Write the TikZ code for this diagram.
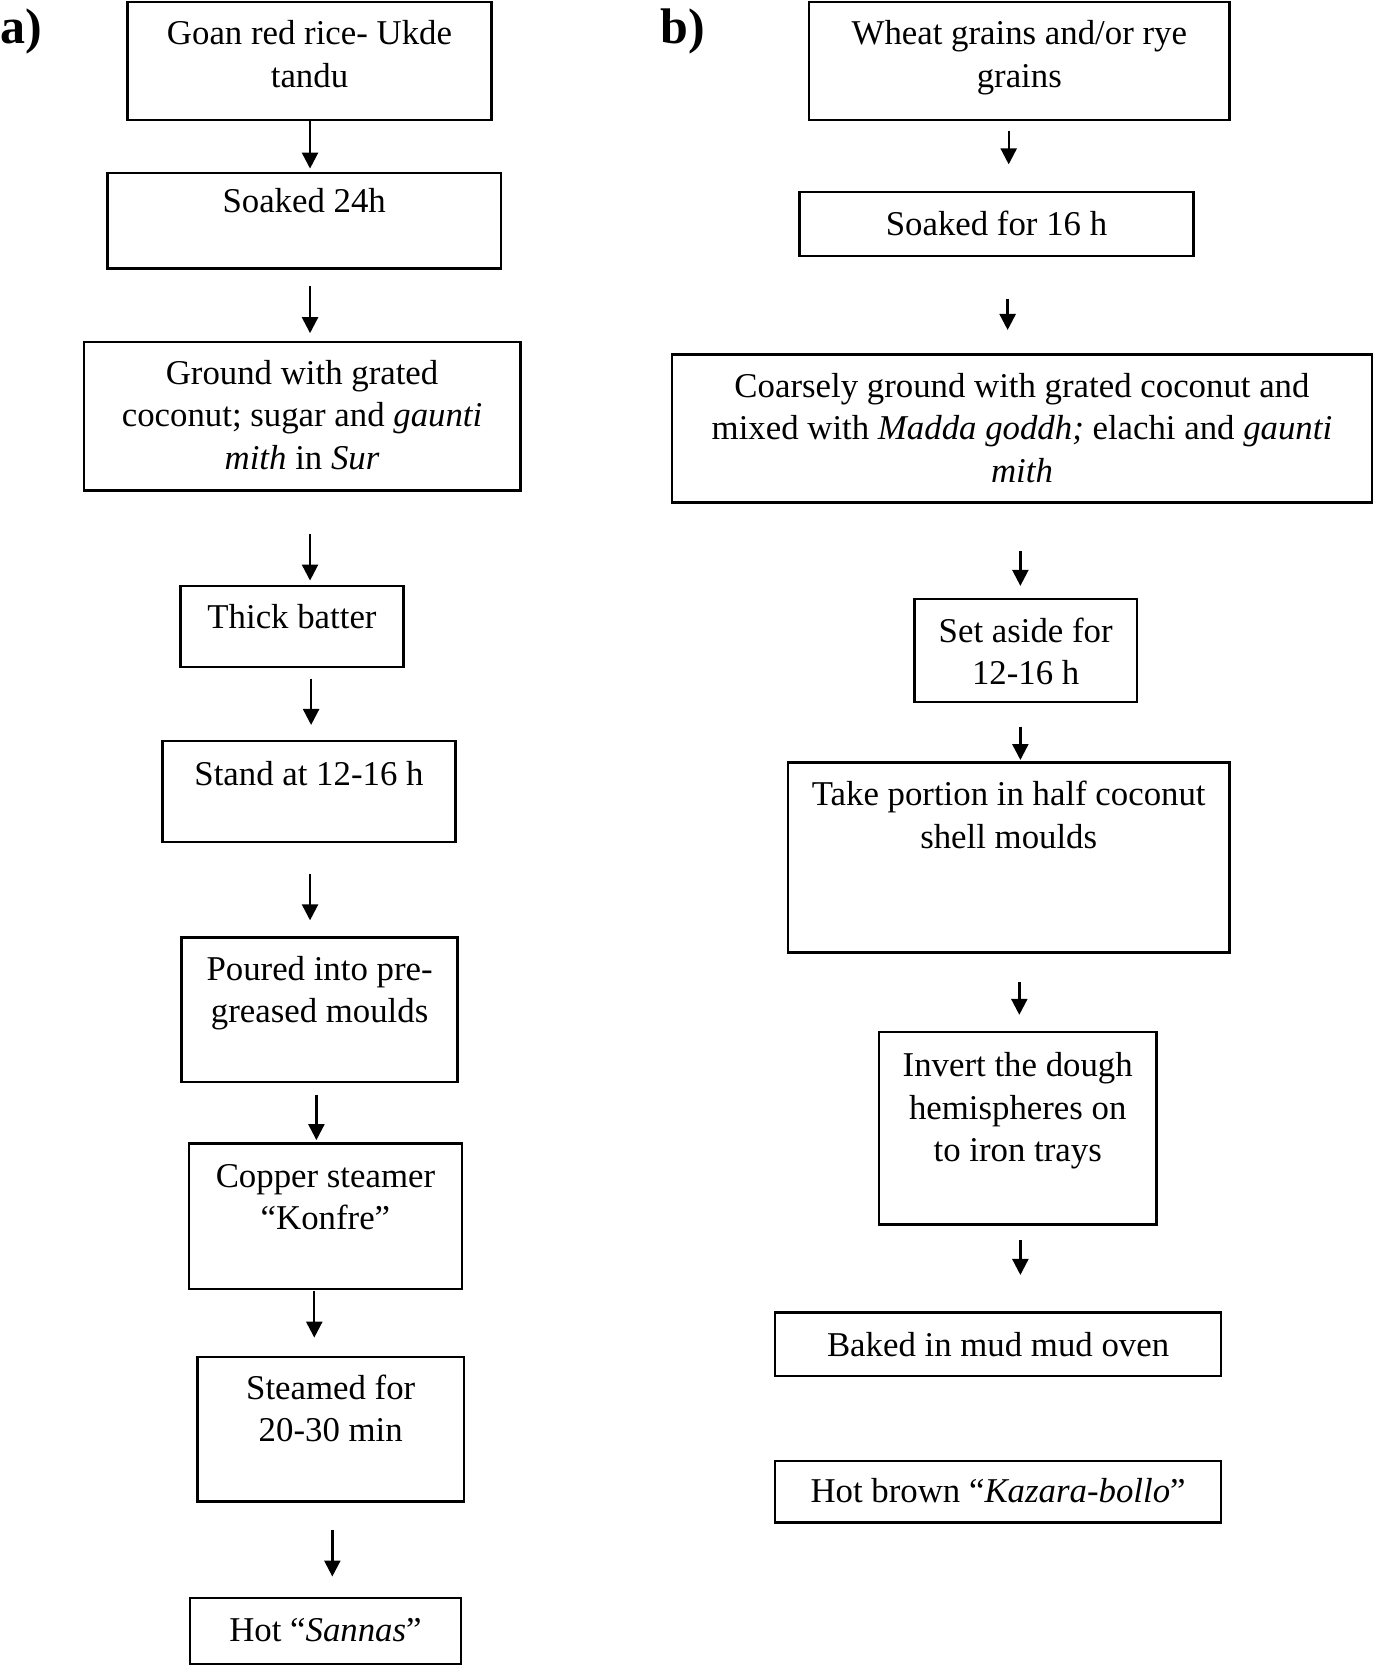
\documentclass[tikz,border=0pt]{standalone}
\usepackage{fontspec}
\setmainfont{Liberation Serif}
\usetikzlibrary{arrows.meta}
\def\myU{0.5309pt}
\tikzset{
  box/.style={draw=black, line width=1.3pt, rectangle, inner sep=0pt, fill=white},
  txt/.style={align=center, inner sep=0pt, font=\fontsize{17.4}{21.2}\selectfont},
  lbl/.style={inner sep=0pt, font=\fontsize{25}{28}\selectfont\bfseries},
  arr/.style={line width=1.2pt, -{Triangle[length=8pt, width=8pt]}}
}
% #6 = baseline of the last text line
\newcommand{\bx}[7]{%
  \node[box, minimum width={(#4-#2)*\myU}, minimum height={(#5-#3)*\myU}] (#1) at ({(#2+#4)/2},{(#3+#5)/2}) {};
  \node[txt, anchor=base] (#1t) at ({(#2+#4)/2},#6) {#7};
}
\newcommand{\arrw}[5]{%
  \draw[arr, shorten <={#4*\myU}, shorten >={#5*\myU}] (#1.south -| #3,0) -- (#2.north -| #3,0);
}
\begin{document}
\begin{tikzpicture}[x=0.5309pt, y=-0.5309pt]
\useasboundingbox (0,0) rectangle (1295,1570);
\node[lbl, anchor=base west] (la) at (0,41) {a)};
\node[lbl, anchor=base west] (lb) at (622,41) {b)};
% column a
\bx{a1}{120}{2}{463}{113}{82}{Goan red rice- Ukde\\tandu}
\bx{a2}{101}{163}{472}{253}{200}{Soaked 24h}
\bx{a3}{79}{322}{490}{462}{442}{Ground with grated\\coconut; sugar and \textit{gaunti}\\\textit{mith} in \textit{Sur}}
\bx{a4}{170}{552}{380}{628}{592}{Thick batter}
\bx{a5}{153}{698}{429}{793}{740}{Stand at 12-16 h}
\bx{a6}{171}{883}{431}{1019}{963}{Poured into pre-\\greased moulds}
\bx{a7}{178}{1077}{435}{1214}{1158}{Copper steamer\\“Konfre”}
\bx{a8}{186}{1278}{437}{1414}{1358}{Steamed for\\20-30 min}
\bx{a9}{179}{1505}{434}{1567}{1546}{Hot “\textit{Sannas}”}
% column b
\bx{b1}{762}{2}{1158}{113}{82}{Wheat grains and/or rye\\grains}
\bx{b2}{753}{181}{1124}{241}{222}{Soaked for 16 h}
\bx{b3}{633}{334}{1292}{473}{454}{Coarsely ground with grated coconut and\\mixed with \textit{Madda goddh;} elachi and \textit{gaunti}\\\textit{mith}}
\bx{b4}{861}{564}{1071}{661}{645}{Set aside for\\12-16 h}
\bx{b5}{742}{718}{1158}{897}{799}{Take portion in half coconut\\shell moulds}
\bx{b6}{828}{972}{1089}{1153}{1094}{Invert the dough\\hemispheres on\\to iron trays}
\bx{b7}{730}{1236}{1150}{1296}{1278}{Baked in mud mud oven}
\bx{b8}{730}{1376}{1150}{1434}{1415}{Hot brown “\textit{Kazara-bollo}”}
% arrows a
\arrw{a1}{a2}{292}{0}{3}
\arrw{a2}{a3}{292}{15}{7}
\arrw{a3}{a4}{292}{40}{4}
\arrw{a4}{a5}{293}{10}{14}
\arrw{a5}{a6}{292}{29}{15}
\arrw{a6}{a7}{298}{11}{2}
\arrw{a7}{a8}{296}{1}{17}
\arrw{a8}{a9}{313}{26}{19}
% arrows b
\arrw{b1}{b2}{950}{9}{25}
\arrw{b2}{b3}{949}{39}{22}
\arrw{b3}{b4}{961}{45}{11}
\arrw{b4}{b5}{961}{22}{1}
\arrw{b5}{b6}{960}{27}{15}
\arrw{b6}{b7}{961}{14}{34}
\end{tikzpicture}
\end{document}
